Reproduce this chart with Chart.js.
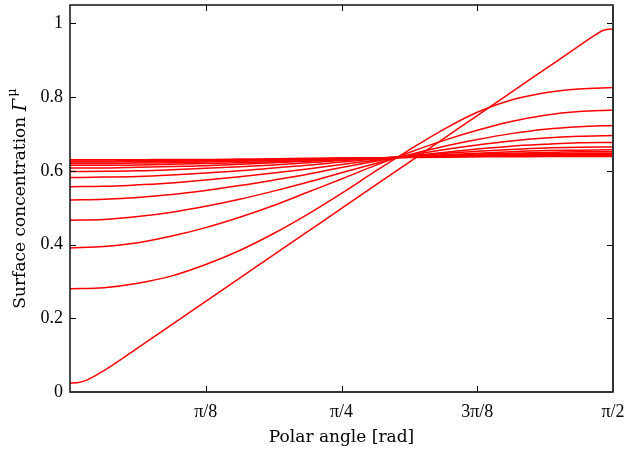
<!DOCTYPE html>
<html><head><meta charset="utf-8">
<script src="https://cdn.jsdelivr.net/npm/chart.js@4"></script>
<style>html,body{margin:0;padding:0;background:#fff}#wrap{width:629px;height:456px}</style>
</head><body><div id="wrap"><canvas id="c" width="629" height="456"></canvas></div>
<script>
// Polar angle samples (rad): 0 .. pi/2 in steps of pi/32
const angles = [0, 0.0982, 0.1963, 0.2945, 0.3927, 0.4909, 0.5890, 0.6872, 0.7854,
                0.8836, 0.9817, 1.0799, 1.1781, 1.2763, 1.3744, 1.4726, 1.5708];
// the steepest curve is sampled more densely near both ends
const angles1 = [0, 0.025, 0.05, 0.0982, 0.1963, 0.2945, 0.3927, 0.4909, 0.5890, 0.6872, 0.7854,
                 0.8836, 0.9817, 1.0799, 1.1781, 1.2763, 1.3744, 1.4726, 1.52, 1.545, 1.5708];

const curve1  = [0.024,0.026,0.033,0.058,0.120,0.183,0.246,0.309,0.372,0.435,0.498,0.561,0.624,0.687,0.750,0.813,0.876,0.939,0.969,0.982,0.985];
const curve2  = [0.280,0.283,0.295,0.315,0.346,0.384,0.430,0.482,0.539,0.599,0.657,0.712,0.759,0.792,0.812,0.822,0.826];
const curve3  = [0.391,0.395,0.405,0.423,0.446,0.474,0.506,0.542,0.578,0.615,0.650,0.682,0.710,0.734,0.751,0.761,0.765];
const curve4  = [0.466,0.468,0.476,0.488,0.504,0.523,0.545,0.569,0.595,0.620,0.644,0.666,0.685,0.701,0.713,0.720,0.723];
const curve5  = [0.521,0.523,0.528,0.536,0.547,0.560,0.575,0.591,0.609,0.626,0.642,0.657,0.670,0.681,0.689,0.694,0.696];
const curve6  = [0.557,0.558,0.562,0.567,0.575,0.584,0.594,0.605,0.617,0.629,0.640,0.650,0.659,0.667,0.672,0.676,0.677];
const curve7  = [0.582,0.583,0.585,0.589,0.594,0.600,0.608,0.615,0.624,0.632,0.639,0.647,0.653,0.658,0.662,0.664,0.665];
const curve8  = [0.598,0.599,0.600,0.603,0.607,0.611,0.616,0.622,0.628,0.633,0.639,0.644,0.648,0.652,0.655,0.656,0.657];
const curve9  = [0.608,0.608,0.610,0.612,0.614,0.618,0.622,0.626,0.630,0.634,0.638,0.642,0.646,0.648,0.650,0.652,0.652];
const curve10 = [0.615,0.615,0.616,0.618,0.620,0.622,0.625,0.628,0.632,0.635,0.638,0.641,0.643,0.645,0.647,0.648,0.648];
const curve11 = [0.620,0.620,0.621,0.622,0.624,0.626,0.628,0.630,0.633,0.635,0.637,0.639,0.641,0.643,0.644,0.645,0.645];
const curve12 = [0.624,0.624,0.625,0.626,0.627,0.628,0.630,0.632,0.634,0.635,0.637,0.639,0.640,0.641,0.642,0.643,0.643];
const curve13 = [0.627,0.627,0.628,0.628,0.629,0.630,0.631,0.633,0.634,0.635,0.637,0.638,0.639,0.640,0.640,0.641,0.641];
const curve14 = [0.630,0.630,0.630,0.631,0.631,0.632,0.633,0.634,0.635,0.635,0.636,0.637,0.638,0.638,0.639,0.639,0.639];

const series = [
  [angles1, curve1], [angles, curve2], [angles, curve3], [angles, curve4], [angles, curve5],
  [angles, curve6], [angles, curve7], [angles, curve8], [angles, curve9], [angles, curve10],
  [angles, curve11], [angles, curve12], [angles, curve13], [angles, curve14]
];

const xTickValues = [0.3927, 0.7854, 1.1781, 1.5708];
const xTickLabels = ['\u03C0/8', '\u03C0/4', '3\u03C0/8', '\u03C0/2'];
const yTickValues = [0, 0.2, 0.4, 0.6, 0.8, 1];
const yTickLabels = ['0', '0.2', '0.4', '0.6', '0.8', '1'];

const xTitle = 'Polar angle [rad]';
const yTitleMain = 'Surface concentration ';
const yTitleSym = '\u0393';
const yTitleSup = '\u03BC';

const FONT = '"Liberation Serif", "DejaVu Serif", serif';
const TFONT = '"DejaVu Serif", "Liberation Serif", serif';

const decor = {
  id: 'decor',
  afterDraw(chart) {
    const {ctx, chartArea: a, scales: {x, y}} = chart;
    ctx.save();
    ctx.strokeStyle = '#000';
    ctx.lineWidth = 1;
    ctx.beginPath();
    xTickValues.forEach(v => {
      const px = Math.round(x.getPixelForValue(v)) + 0.5;
      ctx.moveTo(px, a.bottom); ctx.lineTo(px, a.bottom - 6);
      ctx.moveTo(px, a.top); ctx.lineTo(px, a.top + 6);
    });
    yTickValues.forEach(v => {
      const py = Math.round(y.getPixelForValue(v)) + 0.5;
      ctx.moveTo(a.left, py); ctx.lineTo(a.left + 6, py);
      ctx.moveTo(a.right, py); ctx.lineTo(a.right - 6, py);
    });
    ctx.stroke();
    ctx.lineWidth = 1.5;
    ctx.strokeStyle = '#111';
    ctx.strokeRect(a.left, a.top, a.right - a.left, a.bottom - a.top);
    ctx.lineWidth = 2;
    ctx.strokeStyle = '#333';
    ctx.beginPath();
    ctx.moveTo(a.right, a.top); ctx.lineTo(a.right, a.bottom);
    ctx.moveTo(a.left, a.bottom); ctx.lineTo(a.right, a.bottom);
    ctx.stroke();

    // x title
    ctx.fillStyle = '#000';
    ctx.font = '17px ' + TFONT;
    ctx.textAlign = 'center';
    ctx.textBaseline = 'middle';
    ctx.fillText(xTitle, (a.left + a.right) / 2, 438);

    // y title (rotated)
    ctx.translate(21, (a.top + a.bottom) / 2);
    ctx.rotate(-Math.PI / 2);
    ctx.textAlign = 'left';
    ctx.textBaseline = 'middle';
    const fMain = '17px ' + TFONT, fSym = 'italic 18px ' + TFONT, fSup = '13px ' + TFONT;
    ctx.font = fMain; const w1 = ctx.measureText(yTitleMain).width;
    ctx.font = fSym; const w2 = ctx.measureText(yTitleSym).width;
    ctx.font = fSup; const w3 = ctx.measureText(yTitleSup).width;
    let sx = -(w1 + w2 + w3 + 2) / 2;
    ctx.font = fMain; ctx.fillText(yTitleMain, sx, 0); sx += w1;
    ctx.font = fSym; ctx.fillText(yTitleSym, sx, 0); sx += w2 + 2;
    ctx.font = fSup; ctx.fillText(yTitleSup, sx, -8);
    ctx.restore();
  }
};

new Chart(document.getElementById('c'), {
  type: 'line',
  data: {
    datasets: series.map(([xs, vals], i) => ({
      label: 'curve ' + (i + 1),
      data: xs.map((a, j) => ({x: a, y: vals[j]})),
      borderColor: '#ff0000',
      borderWidth: 1.5,
      pointRadius: 0,
      fill: false,
      cubicInterpolationMode: 'monotone'
    }))
  },
  options: {
    responsive: false,
    animation: false,
    devicePixelRatio: 1,
    layout: {padding: {top: 5, right: 16, left: 0, bottom: 0}},
    plugins: {legend: {display: false}, tooltip: {enabled: false}},
    scales: {
      x: {
        type: 'linear', min: 0, max: 1.5708,
        afterBuildTicks: s => { s.ticks = xTickValues.map(v => ({value: v})); },
        afterFit: s => { s.height = 64; s.paddingLeft = 0; s.paddingRight = 0; },
        ticks: {
          callback: (v, i) => xTickLabels[i],
          font: {family: FONT, size: 18}, color: '#000', padding: 9, maxRotation: 0, autoSkip: false
        },
        grid: {display: false, drawTicks: false},
        border: {display: false}
      },
      y: {
        min: 0, max: 1.05,
        afterBuildTicks: s => { s.ticks = yTickValues.map(v => ({value: v})); },
        afterFit: s => { s.width = 70; s.paddingTop = 0; s.paddingBottom = 0; },
        ticks: {
          callback: (v, i) => yTickLabels[i],
          font: {family: FONT, size: 18}, color: '#000', padding: 7, autoSkip: false
        },
        grid: {display: false, drawTicks: false},
        border: {display: false}
      }
    }
  },
  plugins: [decor]
});
</script>
</body></html>
